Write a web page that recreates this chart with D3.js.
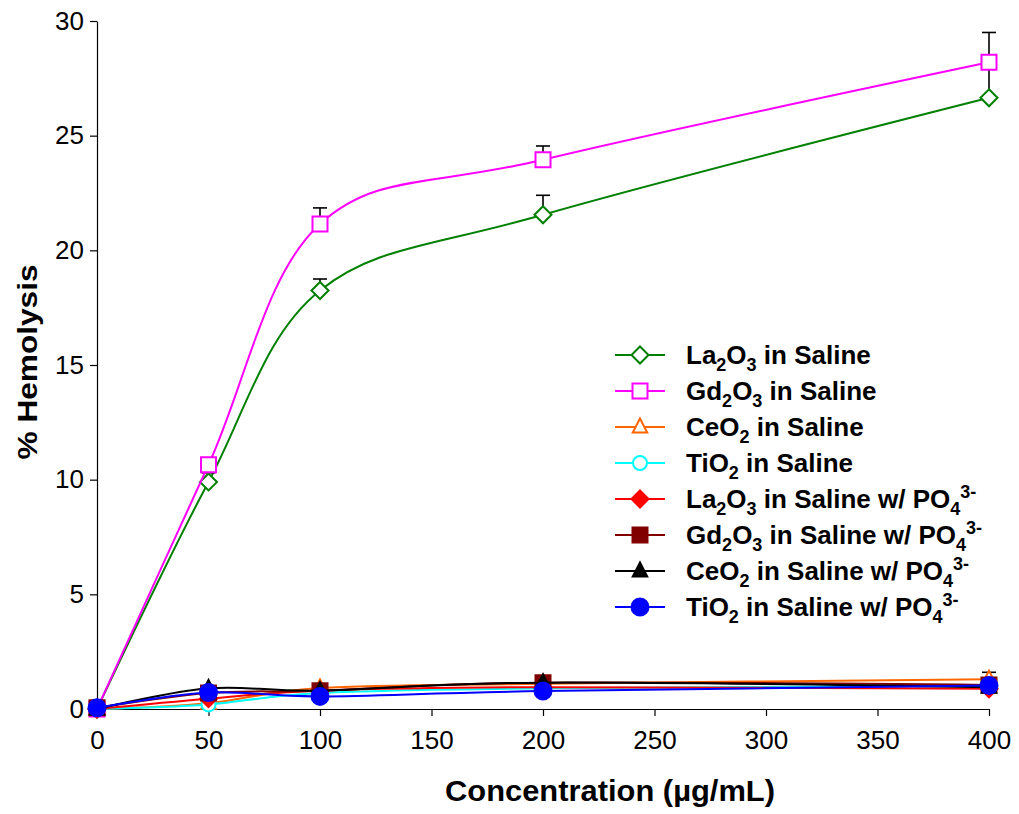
<!DOCTYPE html>
<html>
<head>
<meta charset="utf-8">
<script src="https://cdn.jsdelivr.net/npm/d3@7"></script>
<style>
  body { margin: 0; background: #fff; }
  svg { display: block; font-family: "Liberation Sans", Arial, sans-serif; }
</style>
</head>
<body>
<svg id="chart" width="1019" height="814"></svg>
<script>
// ---- data ----
const concentrations = [0, 50, 100, 200, 400];
const xTicks = [0, 50, 100, 150, 200, 250, 300, 350, 400];
const yTicks = [0, 5, 10, 15, 20, 25, 30];

const la2o3Saline    = [0, 9.9, 18.25, 21.55, 26.65];
const la2o3SalineErr = [0, 0.4, 0.5, 0.85, 1.5];
const gd2o3Saline    = [0, 10.65, 21.15, 23.95, 28.2];
const gd2o3SalineErr = [0, 0.3, 0.7, 0.6, 1.3];
const ceo2Saline     = [0, 0.25, 0.92, 1.1, 1.3];
const ceo2SalineErr  = [0, 0, 0, 0, 0.3];
const tio2Saline     = [0, 0.2, 0.7, 0.9, 1.0];
const la2o3Po4       = [0, 0.45, 0.8, 0.95, 0.88];
const gd2o3Po4       = [0.05, 0.7, 0.8, 1.15, 1.05];
const ceo2Po4        = [0, 0.9, 0.8, 1.15, 0.95];
const tio2Po4        = [0.05, 0.72, 0.55, 0.78, 1.02];

const seriesLabels = [
  [["La"],["2","sub"],["O"],["3","sub"],[" in Saline"]],
  [["Gd"],["2","sub"],["O"],["3","sub"],[" in Saline"]],
  [["CeO"],["2","sub"],[" in Saline"]],
  [["TiO"],["2","sub"],[" in Saline"]],
  [["La"],["2","sub"],["O"],["3","sub"],[" in Saline w/ PO"],["4","sub"],["3-","sup"]],
  [["Gd"],["2","sub"],["O"],["3","sub"],[" in Saline w/ PO"],["4","sub"],["3-","sup"]],
  [["CeO"],["2","sub"],[" in Saline w/ PO"],["4","sub"],["3-","sup"]],
  [["TiO"],["2","sub"],[" in Saline w/ PO"],["4","sub"],["3-","sup"]]
];

const series = [
  {values: la2o3Saline, err: la2o3SalineErr, color: "#008000", marker: "diamond", filled: false},
  {values: gd2o3Saline, err: gd2o3SalineErr, color: "#FF00FF", marker: "square", filled: false},
  {values: ceo2Saline, err: ceo2SalineErr, color: "#FF6600", marker: "triangle", filled: false},
  {values: tio2Saline, err: null, color: "#00FFFF", marker: "circle", filled: false},
  {values: la2o3Po4, err: null, color: "#FF0000", marker: "diamond", filled: true},
  {values: gd2o3Po4, err: null, color: "#800000", marker: "square", filled: true},
  {values: ceo2Po4, err: null, color: "#000000", marker: "triangle", filled: true},
  {values: tio2Po4, err: null, color: "#0000FF", marker: "circle", filled: true}
];

// ---- chart ----
const svg = d3.select("#chart");
const x = d3.scaleLinear().domain([0, 400]).range([97, 989]);
const y = d3.scaleLinear().domain([0, 30]).range([709, 21]);

// axes
const xAxis = svg.append("g").attr("transform", `translate(0,${y(0)})`)
  .call(d3.axisBottom(x).tickValues(xTicks).tickSize(7).tickSizeOuter(0).tickPadding(9));
const yAxis = svg.append("g").attr("transform", `translate(${x(0)},0)`)
  .call(d3.axisLeft(y).tickValues(yTicks).tickSize(7).tickSizeOuter(0).tickPadding(6));
[xAxis, yAxis].forEach(a => {
  a.select(".domain").attr("stroke", "#000").attr("stroke-width", 1.2);
  a.selectAll(".tick line").attr("stroke", "#000").attr("stroke-width", 1.2);
  a.selectAll(".tick text").attr("fill", "#000").attr("font-size", 26)
    .attr("font-family", "Liberation Sans, Arial, sans-serif");
});
xAxis.selectAll(".tick text").attr("dy", "0.92em");

// titles
svg.append("text").attr("x", 610).attr("y", 801).attr("text-anchor", "middle")
  .attr("font-size", 29).attr("font-weight", "bold")
  .attr("textLength", 330).attr("lengthAdjust", "spacingAndGlyphs")
  .text("Concentration (µg/mL)");
svg.append("text").attr("transform", "translate(37,362) rotate(-90)").attr("text-anchor", "middle")
  .attr("font-size", 28).attr("font-weight", "bold")
  .attr("textLength", 195).attr("lengthAdjust", "spacingAndGlyphs")
  .text("% Hemolysis");

function markerPath(type, s) {
  const h = s / 2;
  if (type === "diamond") return `M0,${-h}L${h},0L0,${h}L${-h},0Z`;
  if (type === "square") return `M${-h+1},${-h+1}H${h-1}V${h-1}H${-h+1}Z`;
  if (type === "triangle") return `M0,${-h}L${h*0.85},${h*0.65}L${-h*0.85},${h*0.65}Z`;
  return null;
}
function drawMarker(g, s, cx, cy) {
  const size = 17;
  if (s.marker === "circle") {
    g.append("circle").attr("cx", cx).attr("cy", cy).attr("r", s.filled ? 8.5 : 7)
      .attr("fill", s.filled ? s.color : "#fff").attr("stroke", s.color).attr("stroke-width", 2);
  } else {
    g.append("path").attr("d", markerPath(s.marker, size))
      .attr("transform", `translate(${cx},${cy})`)
      .attr("fill", s.filled ? s.color : "#fff").attr("stroke", s.color).attr("stroke-width", 2);
  }
}

const line = d3.line().x(d => x(d[0])).y(d => y(d[1])).curve(d3.curveCardinal.tension(0));

const plot = svg.append("g");
series.forEach(s => {
  const pts = concentrations.map((c, i) => [c, s.values[i]]);
  const g = plot.append("g");
  g.append("path").datum(pts).attr("d", line).attr("fill", "none")
    .attr("stroke", s.color).attr("stroke-width", 2);
  if (s.err) {
    concentrations.forEach((c, i) => {
      if (!s.err[i]) return;
      const x0 = x(c), y0 = y(s.values[i]), y1 = y(s.values[i] + s.err[i]);
      g.append("line").attr("x1", x0).attr("x2", x0).attr("y1", y0).attr("y2", y1)
        .attr("stroke", "#000").attr("stroke-width", 1.6);
      g.append("line").attr("x1", x0 - 7).attr("x2", x0 + 7).attr("y1", y1).attr("y2", y1)
        .attr("stroke", "#000").attr("stroke-width", 1.6);
    });
  }
  concentrations.forEach((c, i) => drawMarker(g, s, x(c), y(s.values[i])));
});

// legend
const legend = svg.append("g");
series.forEach((s, i) => {
  const ly = 355 + i * 36;
  legend.append("line").attr("x1", 615).attr("x2", 665).attr("y1", ly).attr("y2", ly)
    .attr("stroke", s.color).attr("stroke-width", 2);
  drawMarker(legend, s, 640, ly);
  const t = legend.append("text").attr("x", 686).attr("y", ly + 9)
    .attr("font-size", 26).attr("font-weight", "bold").attr("fill", "#000");
  let cur = 0;
  seriesLabels[i].forEach(([txt, kind]) => {
    const target = kind === "sub" ? 7 : kind === "sup" ? -10 : 0;
    const ts = t.append("tspan").text(txt).attr("dy", target - cur);
    if (kind) ts.attr("font-size", 18);
    cur = target;
  });
});
</script>
</body>
</html>
